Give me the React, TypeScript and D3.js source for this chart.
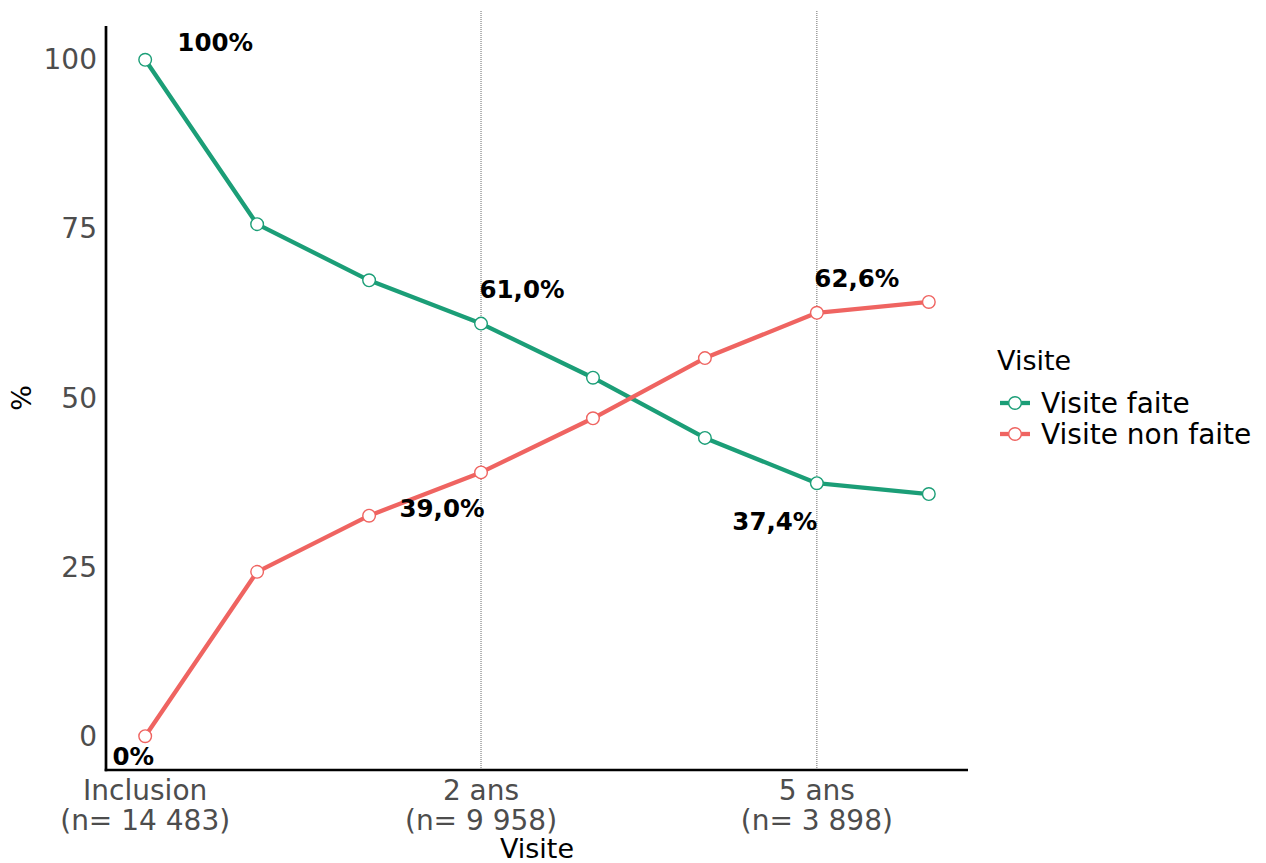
import React from 'react';
import * as d3 from 'd3';

const visits = [0, 1, 2, 3, 4, 5, 6, 7];
const faite = [100, 75.7, 67.4, 61.0, 53.0, 44.1, 37.4, 35.8];
const nonFaite = [0, 24.3, 32.6, 39.0, 47.0, 55.9, 62.6, 64.2];
const yTicks = [0, 25, 50, 75, 100];
const xTickPos = [0, 3, 6];
const xTickLines1 = ['Inclusion', '2 ans', '5 ans'];
const xTickLines2 = ['(n= 14 483)', '(n= 9 958)', '(n= 3 898)'];
const vlines = [3, 6];
const labelIdx = [0, 3, 6];
const labelFaite = ['100%', '61,0%', '37,4%'];
const labelNonFaite = ['0%', '39,0%', '62,6%'];
const seriesNames = ['Visite faite', 'Visite non faite'];

const W = 1266;
const H = 863;
const GREEN = '#1B9E77';
const RED = '#EF6461';
const FONT = '"DejaVu Sans", sans-serif';

const panel = { left: 106, right: 968, top: 26, bottom: 770 };

// label offsets (px) relative to the point
const offFaite = [[70, -17], [41, -34], [-42, 38]];
const offNon = [[-12, 20], [-39, 36], [40, -34]];

export default function App() {
  const x = d3.scaleLinear().domain([-0.35, 7.35]).range([panel.left, panel.right]);
  const y = d3.scaleLinear().domain([-5, 105]).range([panel.bottom, panel.top]);

  const line = d3.line<number>()
    .x((_, i) => x(visits[i]))
    .y((d) => y(d));

  const series = [
    { name: seriesNames[0], values: faite, color: GREEN, labels: labelFaite, off: offFaite },
    { name: seriesNames[1], values: nonFaite, color: RED, labels: labelNonFaite, off: offNon },
  ];

  return (
    <svg width={W} height={H} style={{ display: 'block', position: 'absolute', left: 0, top: 0 }} fontFamily={FONT}>
      <rect width={W} height={H} fill="#fff" />

      {vlines.map((v) => (
        <line key={v} x1={x(v)} x2={x(v)} y1={11} y2={panel.bottom}
          stroke="#444" strokeWidth={0.8} strokeDasharray="1 1" />
      ))}

      {series.map((s) => (
        <g key={s.name}>
          <path d={line(s.values) ?? ''} fill="none" stroke={s.color} strokeWidth={4.3} strokeLinejoin="round" />
          {s.values.map((v, i) => (
            <circle key={i} cx={x(visits[i])} cy={y(v)} r={6.3} fill="#fff" stroke={s.color} strokeWidth={1.4} />
          ))}
        </g>
      ))}

      {series.map((s) =>
        labelIdx.map((idx, k) => (
          <text key={s.name + k}
            x={x(visits[idx]) + s.off[k][0]}
            y={y(s.values[idx]) + s.off[k][1]}
            textAnchor="middle" dominantBaseline="central"
            fontSize={24.5} fontWeight="bold" fill="#000">
            {s.labels[k]}
          </text>
        ))
      )}

      {/* axes */}
      <line x1={panel.left} x2={panel.left} y1={panel.top} y2={panel.bottom + 1.3} stroke="#000" strokeWidth={2.7} />
      <line x1={panel.left - 1.3} x2={panel.right} y1={panel.bottom} y2={panel.bottom} stroke="#000" strokeWidth={2.7} />

      {yTicks.map((t) => (
        <text key={t} x={panel.left - 9} y={y(t)} textAnchor="end" dominantBaseline="central"
          fontSize={28} fill="#4d4d4d">{t}</text>
      ))}

      {xTickPos.map((p, i) => (
        <g key={p}>
          <text x={x(p)} y={800} textAnchor="middle" fontSize={28} fill="#4d4d4d">{xTickLines1[i]}</text>
          <text x={x(p)} y={830} textAnchor="middle" fontSize={28} fill="#4d4d4d">{xTickLines2[i]}</text>
        </g>
      ))}

      <text x={537} y={858} textAnchor="middle" fontSize={27} fill="#000">Visite</text>
      <text transform={`translate(31,${(panel.top + panel.bottom) / 2}) rotate(-90)`} textAnchor="middle"
        fontSize={27} fill="#000">%</text>

      {/* legend */}
      <text x={997} y={370} fontSize={27} fill="#000">Visite</text>
      {series.map((s, i) => {
        const cy = 403 + i * 31;
        return (
          <g key={s.name}>
            <line x1={1000} x2={1030} y1={cy} y2={cy} stroke={s.color} strokeWidth={4.3} />
            <circle cx={1015} cy={cy} r={6.3} fill="#fff" stroke={s.color} strokeWidth={1.4} />
            <text x={1041} y={cy} dominantBaseline="central" fontSize={28} fill="#000">{s.name}</text>
          </g>
        );
      })}
    </svg>
  );
}
